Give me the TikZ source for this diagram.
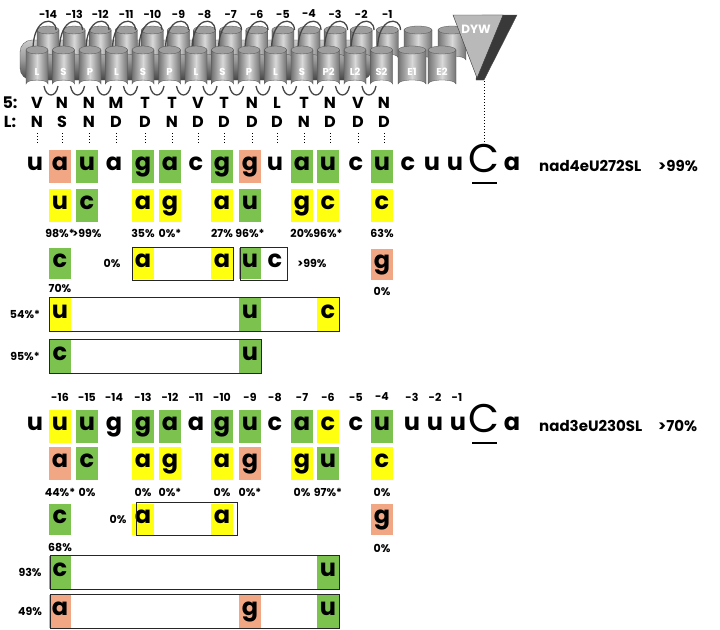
\documentclass[tikz,border=0pt]{standalone}
\usepackage{fontspec}
\setmainfont{Poppins}
\definecolor{grn}{HTML}{7CC24E}
\definecolor{yel}{HTML}{FFFF10}
\definecolor{sal}{HTML}{F2A784}
\definecolor{cylD}{gray}{0.45}
\definecolor{cylL}{gray}{0.85}
\definecolor{cylT}{gray}{0.62}
\newcommand\X[1]{\ifcase#1 35\or 60\or 87\or 114\or 143\or 170\or 196\or 222\or 250\or 275\or 302\or 328\or 356\or 382\fi}
\newcommand\nt[5]{\node[#1] (#2) at (\X{#3},#4) {#5};}
\newcommand\cyl[5]{%
 \shade[left color=cylD,right color=cylD,middle color=cylL,draw=gray!60!black,line width=0.3]
  (#1-#4,#2) -- (#1-#4,#3) arc[start angle=180,end angle=360,x radius=#4,y radius=4] -- (#1+#4,#2) -- cycle;
 \fill[cylT,draw=gray!60!black,line width=0.3] (#1,#2) ellipse[x radius=#4,y radius=4];
 \node[white,font=\fontsize{10}{10}\selectfont\bfseries] at (#1,#3-12) {#5};}
\begin{document}
\begin{tikzpicture}[x=1pt,y=-1pt,
 nuc/.style={font=\fontsize{24}{24}\selectfont\bfseries,inner sep=0,minimum width=22,minimum height=33,text height=13,text depth=5},
 G/.style={nuc,fill=grn}, Y/.style={nuc,fill=yel}, S/.style={nuc,fill=sal}, P/.style={nuc},
 G3/.style={G,minimum height=31}, Y3/.style={Y,minimum height=31}, S3/.style={S,minimum height=31}, P3/.style={P,minimum height=31},
 pct/.style={font=\fontsize{11}{11}\selectfont\bfseries,inner sep=0},
 num/.style={font=\fontsize{11}{11}\selectfont\bfseries,inner sep=0},
 aa/.style={font=\fontsize{16}{16}\selectfont\bfseries,inner sep=0},
 big/.style={font=\fontsize{40}{40}\selectfont,inner sep=0,anchor=base},
 lab/.style={font=\fontsize{15}{15}\selectfont\bfseries,inner sep=0,anchor=west},
 frame/.style={draw=black!85,line width=1},
 loopl/.style={draw=gray!55!black,line width=1.3}]
\useasboundingbox (0,0) rectangle (720,629);
% ---------- protein cartoon ----------
\shade[top color=gray!40,bottom color=gray!55!black,middle color=gray!80,rounded corners=12,draw=gray!60!black,line width=0.3] (20,40) rectangle (372,80);
\foreach \i in {0,...,13}{\pgfmathsetmacro\bx{48+26.1*\i}\cyl{\bx}{30}{58}{11}{}}
\cyl{418}{30}{60}{14}{}\cyl{452}{30}{60}{14}{}
\foreach \i in {0,...,13}{\pgfmathsetmacro\fx{37+26.5*\i}
 \draw[loopl] (\fx-4,50) .. controls (\fx-4,16) and (\fx+19,16) .. (\fx+19,30);}
\foreach \i/\l in {0/L,1/S,2/P,3/L,4/S,5/P,6/L,7/S,8/P,9/L,10/S,11/P2,12/L2,13/S2}{
 \pgfmathsetmacro\fx{37+26.5*\i}\cyl{\fx}{50}{84}{11}{\l}}
\cyl{412}{50}{84}{14}{E1}\cyl{442}{50}{84}{14}{E2}
\foreach \i in {0,...,12}{\pgfmathsetmacro\fx{37+26.5*\i}
 \draw[loopl] (\fx+7,86) .. controls (\fx+9,98) and (\fx+19,98) .. (\fx+21,86);}
\fill[gray!45!black,draw=black!70,line width=0.4] (482,15) -- (517,15) -- (484,80) -- (476,80) -- cycle;
\fill[gray!55,draw=gray!40!black,line width=0.4] (453,15) -- (503,15) -- (477,78) -- cycle;
\node[white,font=\fontsize{12}{12}\selectfont\bfseries] (dyw) at (476,29) {DYW};
\coordinate (dywtip) at (484,81);
\coordinate (dywend) at (484,146);
\draw[dotted,line width=1] (dywtip) -- (dywend);
% header numbers top
\foreach \i/\t in {0/-14,1/-13,2/-12,3/-11,4/-10,5/-9,6/-8,7/-7,8/-6,9/-5,10/-4,11/-3,12/-2,13/-1}{
 \pgfmathsetmacro\hx{48+26.1*\i}\node[num] (h\i) at (\hx,14) {\t};}
% 5: and L:
\node[aa] (l5) at (10,103) {5:};\node[aa] (lL) at (10,122) {L:};
\foreach \i/\a/\b in {0/V/N,1/N/S,2/N/N,3/M/D,4/T/D,5/T/N,6/V/D,7/T/D,8/N/D,9/L/D,10/T/N,11/N/D,12/V/D,13/N/D}{
 \node[aa] (f\i) at (\X{\i}+2,103) {\a};\node[aa] (g\i) at (\X{\i}+2,122) {\b};
 \draw[dotted,line width=1] (\X{\i}+2,133) -- (\X{\i}+2,143);}
% ---------- nad4eU272SL ----------
\nt{P}{a0}{0}{166}{u}\nt{S}{a1}{1}{166}{a}\nt{G}{a2}{2}{166}{u}\nt{P}{a3}{3}{166}{a}
\nt{G}{a4}{4}{166}{g}\nt{G}{a5}{5}{166}{a}\nt{P}{a6}{6}{166}{c}\nt{G}{a7}{7}{166}{g}
\nt{S}{a8}{8}{166}{g}\nt{P}{a9}{9}{166}{u}\nt{G}{a10}{10}{166}{a}\nt{G}{a11}{11}{166}{u}
\nt{P}{a12}{12}{166}{c}\nt{G}{a13}{13}{166}{u}
\node[P] (a14) at (408,166) {c};\node[P] (a15) at (432,166) {u};\node[P] (a16) at (455,166) {u};
\node[big] (aC) at (484,172) {C};\draw[line width=2.2] (472,183) -- (497,183);
\node[P] (a17) at (512,166) {a};
\node[lab] (n4) at (539,166) {nad4eU272SL};\node[lab] (n4p) at (658,166) {>99\%};
\nt{Y}{b1}{1}{205}{u}\nt{G}{b2}{2}{205}{c}\nt{Y}{b4}{4}{205}{a}\nt{Y}{b5}{5}{205}{g}
\nt{Y}{b7}{7}{205}{a}\nt{G}{b8}{8}{205}{u}\nt{Y}{b10}{10}{205}{g}\nt{Y}{b11}{11}{205}{c}\nt{Y}{b13}{13}{205}{c}
\foreach \i/\t in {1/98\%*,2/>99\%,4/35\%,5/0\%*,7/27\%,8/96\%*,10/20\%,11/96\%*,13/63\%}{
 \node[pct] (p\i) at (\X{\i},233) {\t};}
\nt{G3}{c1}{1}{263}{c}\node[pct] (c1p) at (\X{1},288) {70\%};
\node[pct] (c4p) at (112,263) {0\%};
\nt{Y3}{c4}{4}{263}{a}\nt{Y3}{c7}{7}{263}{a}\draw[frame] (132,247) rectangle (233,280);
\nt{G3}{c8}{8}{263}{u}\nt{P3}{c9}{9}{263}{c}\draw[frame] (240,247) rectangle (287,280);
\node[pct] (c8p) at (312,263) {>99\%};
\nt{S3}{c13}{13}{264}{g}\node[pct] (c13p) at (\X{13},291) {0\%};
\nt{Y}{d1}{1}{314}{u}\nt{G}{d8}{8}{314}{u}\nt{Y}{d11}{11}{314}{c}\draw[frame] (49,297) rectangle (339,331);
\node[pct] (d1p) at (25,314) {54\%*};
\nt{G}{e1}{1}{356}{c}\nt{G}{e8}{8}{356}{u}\draw[frame] (49,339) rectangle (261,373);
\node[pct] (e1p) at (25,356) {95\%*};
% ---------- nad3eU230SL ----------
\foreach \i/\t in {1/-16,2/-15,3/-14,4/-13,5/-12,6/-11,7/-10,8/-9,9/-8,10/-7,11/-6,12/-5,13/-4}{
 \node[num] (k\i) at (\X{\i},397) {\t};}
\node[num] (k14) at (412,397) {-3};\node[num] (k15) at (435,397) {-2};\node[num] (k16) at (457,397) {-1};
\nt{P}{q0}{0}{426}{u}\nt{Y}{q1}{1}{426}{u}\nt{G}{q2}{2}{426}{u}\nt{P}{q3}{3}{426}{g}
\nt{G}{q4}{4}{426}{g}\nt{G}{q5}{5}{426}{a}\nt{P}{q6}{6}{426}{a}\nt{G}{q7}{7}{426}{g}
\nt{G}{q8}{8}{426}{u}\nt{P}{q9}{9}{426}{c}\nt{G}{q10}{10}{426}{a}\nt{Y}{q11}{11}{426}{c}
\nt{P}{q12}{12}{426}{c}\nt{G}{q13}{13}{426}{u}
\node[P] (q14) at (412,426) {u};\node[P] (q15) at (435,426) {u};\node[P] (q16) at (458,426) {u};
\node[big] (qC) at (484,432) {C};\draw[line width=2.2] (472,443) -- (497,443);
\node[P] (q17) at (512,426) {a};
\node[lab] (n3) at (539,426) {nad3eU230SL};\node[lab] (n3p) at (658,426) {>70\%};
\nt{S}{r1}{1}{463}{a}\nt{G}{r2}{2}{463}{c}\nt{Y}{r4}{4}{463}{a}\nt{Y}{r5}{5}{463}{g}
\nt{Y}{r7}{7}{463}{a}\nt{S}{r8}{8}{463}{g}\nt{Y}{r10}{10}{463}{g}\nt{G}{r11}{11}{463}{u}\nt{Y}{r13}{13}{463}{c}
\foreach \i/\t in {1/44\%*,2/0\%,4/0\%,5/0\%*,7/0\%,8/0\%*,10/0\%,11/97\%*,13/0\%}{
 \node[pct] (s\i) at (\X{\i},492) {\t};}
\nt{G3}{t1}{1}{519}{c}\node[pct] (t1p) at (\X{1},547) {68\%};
\node[pct] (t4p) at (118,519) {0\%};
\nt{Y3}{t4}{4}{519}{a}\nt{Y3}{t7}{7}{519}{a}\draw[frame] (136,502) rectangle (237,535);
\nt{S3}{t13}{13}{519}{g}\node[pct] (t13p) at (\X{13},548) {0\%};
\nt{G}{v1}{1}{572}{c}\nt{G}{v11}{11}{572}{u}\draw[frame] (50,555) rectangle (339,589);
\node[pct] (v1p) at (30,572) {93\%};
\nt{S}{w1}{1}{611}{a}\nt{S}{w8}{8}{611}{g}\nt{G}{w11}{11}{611}{u}\draw[frame] (50,594) rectangle (339,628);
\node[pct] (w1p) at (30,611) {49\%};
\end{tikzpicture}
\end{document}
